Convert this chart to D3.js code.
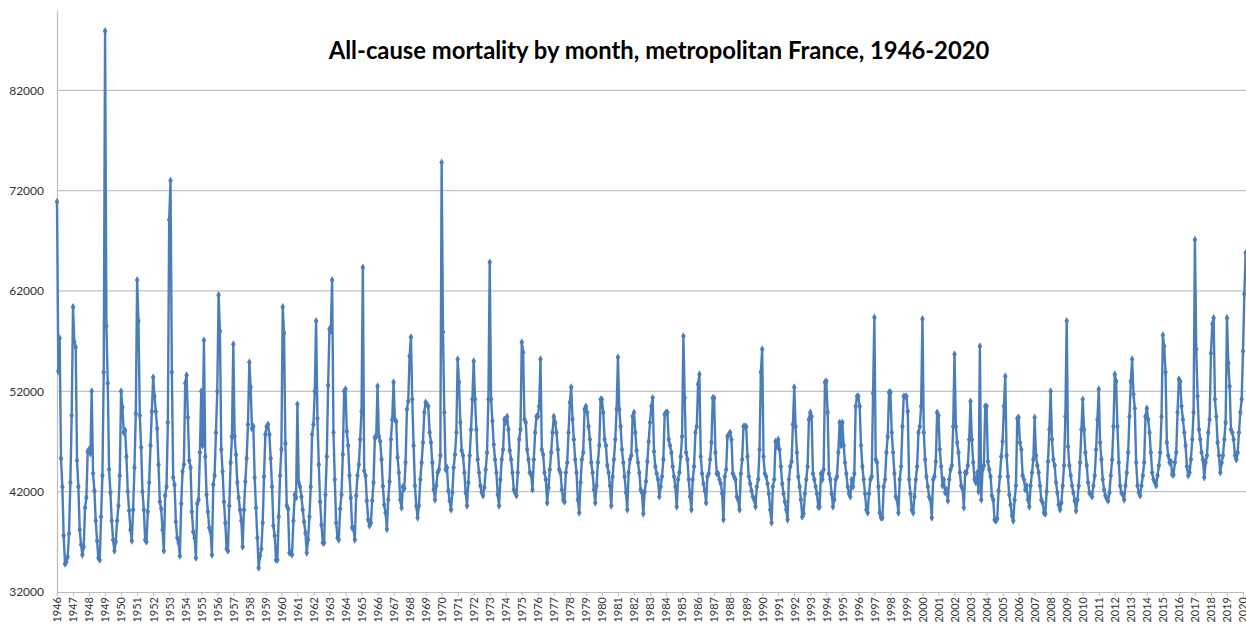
<!DOCTYPE html>
<html>
<head>
<meta charset="utf-8">
<script src="https://cdn.jsdelivr.net/npm/d3@7"></script>
<style>
body { margin: 0; background: #fff; }
svg { display: block; font-family: Lato, "Open Sans", sans-serif; }
</style>
</head>
<body>
<script>
// monthly deaths, one row per year (Jan..Dec)
var years = d3.range(1946, 2021);
var deaths = [
  [70900, 54000, 57300, 45300, 42500, 37600, 34800, 35000, 35500, 37800, 42900, 49600], // 1946
  [60400, 56900, 56400, 45100, 42500, 38200, 36700, 35700, 36500, 40400, 41400, 46000],
  [46200, 45800, 52000, 43800, 42100, 39100, 37100, 35400, 35200, 39500, 43600, 53900],
  [87900, 58500, 52800, 44200, 41900, 39100, 37200, 36100, 37000, 39100, 40600, 43600],
  [52000, 50400, 47900, 48100, 45500, 42000, 40100, 38200, 37100, 40200, 44400, 49800], // 1950
  [63100, 59000, 49600, 46400, 42000, 40200, 37200, 37000, 40000, 42900, 46600, 50000],
  [53400, 51500, 50000, 48300, 44700, 41000, 40300, 38200, 36100, 41600, 42500, 48900],
  [69100, 73000, 53900, 43400, 42700, 39000, 37400, 36900, 35600, 40800, 44000, 44700],
  [52800, 53600, 49400, 45100, 44400, 40000, 38000, 37400, 35400, 40800, 41200, 45900],
  [52000, 46600, 57100, 45500, 41700, 40000, 38400, 38000, 35700, 42700, 43600, 47900], // 1955
  [52000, 61600, 58000, 46200, 44000, 41000, 38900, 36300, 36100, 40600, 44900, 47500],
  [56700, 47500, 45700, 42900, 41400, 40200, 39100, 36500, 40200, 43000, 45300, 48700],
  [54900, 52400, 48300, 48500, 43400, 40400, 37400, 34400, 35600, 36300, 38900, 43500],
  [47700, 48500, 48700, 47700, 45300, 42500, 38600, 37600, 35200, 35200, 39500, 43600],
  [46200, 60400, 57800, 46800, 40600, 40300, 35900, 35900, 35700, 39100, 41700, 41400], // 1960
  [50700, 42900, 42500, 41500, 40200, 39000, 37900, 35900, 37200, 39500, 42500, 47700],
  [48700, 52000, 59000, 49300, 44700, 41000, 38700, 36900, 36900, 41700, 45500, 52600],
  [58200, 58000, 63100, 47900, 43200, 38900, 37400, 37200, 40300, 41700, 45700, 52000],
  [52200, 48000, 46600, 43600, 41400, 38400, 38300, 37200, 41600, 43600, 44700, 47200],
  [50000, 64350, 44100, 43600, 41100, 39200, 38600, 38900, 41100, 42900, 47400, 47500], // 1965
  [52500, 47550, 47000, 45200, 42550, 40700, 39900, 38250, 41200, 43000, 47200, 49200],
  [52900, 49200, 49000, 45400, 43900, 41200, 40400, 42500, 42300, 44900, 50200, 51000],
  [55500, 57400, 51200, 46600, 42600, 40600, 39400, 40600, 43200, 44900, 46900, 49900],
  [50900, 50700, 50500, 47900, 46900, 44900, 42200, 41200, 42600, 43900, 44200, 45600],
  [74800, 57900, 49900, 44200, 44400, 42100, 41100, 40200, 41900, 44400, 45700, 47900], // 1970
  [55200, 52900, 48900, 46100, 45600, 43900, 41900, 40600, 42900, 45600, 48200, 51200],
  [55000, 51200, 48200, 45200, 43900, 42600, 41900, 41600, 42400, 44200, 45900, 51200],
  [64850, 51200, 49050, 46700, 45200, 43900, 41700, 40600, 43200, 45200, 46200, 49200],
  [48900, 49500, 48200, 46100, 45200, 43900, 42200, 41900, 41600, 43900, 47200, 48200],
  [56900, 55900, 49200, 48900, 46200, 45200, 43900, 43700, 42200, 45200, 47900, 49500], // 1975
  [49500, 50500, 55200, 46200, 45700, 43900, 43200, 40900, 42400, 44200, 45900, 47900],
  [49500, 48900, 47900, 46200, 44200, 43900, 42200, 41200, 41000, 43900, 44900, 47900],
  [50900, 52400, 49200, 47200, 45200, 43900, 41200, 39900, 42900, 45200, 45900, 50200],
  [50500, 49900, 48500, 47200, 44900, 43900, 42200, 40900, 42600, 44900, 46600, 51200],
  [51200, 49900, 47200, 46600, 44600, 43900, 42600, 40600, 43500, 45200, 47200, 50200], // 1980
  [55400, 50200, 48500, 46200, 44900, 43500, 41900, 40200, 43900, 45200, 45600, 49500],
  [49900, 47900, 46100, 44900, 43900, 42200, 41900, 39800, 42000, 43000, 45000, 47000],
  [48900, 50500, 51350, 46000, 44500, 43800, 43200, 41500, 42500, 43500, 45200, 49700],
  [49900, 49900, 47200, 46600, 45900, 44500, 43500, 42500, 40500, 43200, 43900, 45500],
  [47500, 57500, 51350, 45900, 45200, 43200, 41500, 40200, 43200, 44500, 47900, 48500], // 1985
  [52700, 53700, 45500, 43800, 42800, 42100, 40900, 43500, 43800, 45200, 46900, 51350],
  [51350, 45900, 43800, 43800, 43200, 42800, 41800, 39200, 43500, 44200, 47500, 47700],
  [47900, 47200, 43800, 43500, 43200, 41500, 41200, 40200, 43800, 45200, 48500, 48500],
  [48500, 45500, 43500, 42800, 42100, 41500, 41200, 40500, 42500, 43200, 46200, 53900],
  [56200, 45500, 43800, 43500, 42800, 41800, 40200, 38900, 42500, 43200, 47000, 46500], // 1990
  [47200, 46200, 44500, 42800, 41800, 41000, 40200, 39200, 43200, 44500, 45000, 48700],
  [52400, 48500, 45900, 43500, 42500, 41200, 39500, 39800, 41800, 43200, 44500, 49200],
  [49900, 49500, 43800, 43200, 42500, 41800, 40500, 40500, 43800, 43200, 44200, 52900],
  [53000, 49900, 43800, 43200, 41800, 40500, 41200, 43200, 43500, 45900, 48900, 46600],
  [48900, 46600, 44900, 43800, 42500, 41800, 41500, 43200, 42500, 43800, 50500, 51500], // 1995
  [51500, 50500, 46600, 44500, 43200, 41800, 40200, 39900, 41800, 43200, 43500, 51800],
  [59350, 45200, 44900, 42500, 39900, 39400, 39400, 42500, 43200, 45900, 47500, 51900],
  [51900, 47900, 45900, 43800, 41500, 41200, 39900, 43200, 44500, 48500, 51500, 51500],
  [51500, 50000, 43200, 41800, 40200, 39900, 41500, 43200, 44500, 47900, 48500, 50500],
  [59200, 47900, 45200, 43500, 42500, 41500, 41200, 39400, 43200, 43500, 45000, 49900], // 2000
  [49600, 46200, 44500, 42600, 43200, 41900, 42200, 41100, 43200, 44200, 44600, 48500],
  [55700, 48500, 46900, 45900, 43900, 42600, 42300, 40400, 43900, 43900, 44600, 47200],
  [51000, 47200, 44900, 43200, 42900, 43900, 42000, 56500, 41200, 44200, 44600, 50500],
  [50500, 45000, 44200, 43500, 41600, 41200, 39200, 39100, 39300, 42100, 43500, 45500],
  [47000, 50500, 53500, 45600, 43500, 41700, 40700, 39600, 39100, 41200, 42600, 49300], // 2005
  [49400, 46900, 46200, 43600, 43200, 42200, 42600, 41200, 40500, 42600, 43900, 45200],
  [49400, 45600, 44600, 43900, 42600, 41200, 40900, 39900, 39800, 42000, 45000, 48200],
  [52000, 47200, 45200, 44600, 42900, 41900, 40700, 40200, 40900, 42600, 44600, 49500],
  [59000, 46500, 44600, 43600, 42600, 41900, 41100, 40100, 41200, 42600, 44900, 48200],
  [51200, 48200, 45900, 44600, 42900, 41900, 41700, 41500, 42600, 43600, 46200, 49200], // 2010
  [52200, 46900, 45200, 43200, 42200, 41600, 41300, 41100, 41900, 43600, 45200, 48500],
  [53700, 53000, 48500, 44900, 42600, 41900, 41700, 41200, 42600, 43900, 45900, 49500],
  [53000, 55200, 51700, 50300, 44900, 42600, 41900, 41600, 42600, 43600, 44900, 49500],
  [50300, 49200, 47900, 45900, 43900, 43200, 42900, 42600, 43600, 44600, 45900, 49500],
  [57600, 56500, 53900, 46900, 45600, 44900, 45000, 43700, 43700, 44900, 45900, 49900], // 2015
  [53200, 53000, 50500, 49200, 47900, 46600, 44500, 43600, 43900, 45200, 47200, 49900],
  [67100, 56200, 51500, 48200, 47200, 45900, 45200, 43400, 44900, 45600, 47900, 49200],
  [55800, 58700, 59300, 51200, 49500, 46900, 45600, 43900, 44900, 45600, 47200, 48900],
  [59300, 54800, 52500, 48200, 47900, 47200, 45600, 45200, 45900, 47900, 49900, 51200],
  [56000, 61700, 65800] // 2020
];
var yTicks = [32000, 42000, 52000, 62000, 72000, 82000];
var title = "All-cause mortality by month, metropolitan France, 1946-2020";

var width = 1246, height = 625;
var plotLeft = 57, plotTop = 10, plotBottom = 592, lastJan = 1243;

// flatten to one point per month
var series = [];
deaths.forEach(function(row, yi) {
  row.forEach(function(v, m) { series.push({i: yi * 12 + m, value: v}); });
});

var xScale = d3.scaleLinear().domain([0, (years.length - 1) * 12]).range([plotLeft, lastJan]);
var yScale = d3.scaleLinear().domain([32000, 90000]).range([plotBottom, plotTop]);

var svg = d3.select("body").append("svg")
    .attr("width", width)
    .attr("height", height);

// gridlines
svg.append("g")
  .selectAll("line")
  .data(yTicks.slice(1))
  .enter().append("line")
    .attr("x1", plotLeft).attr("x2", width)
    .attr("y1", function(d) { return yScale(d); })
    .attr("y2", function(d) { return yScale(d); })
    .attr("stroke", "#c4c4c4")
    .attr("stroke-width", 1.2);

// y-axis
var yAxis = svg.append("g")
    .attr("transform", "translate(" + plotLeft + ",0)")
    .call(d3.axisLeft(yScale).tickValues(yTicks).tickSize(0).tickPadding(13).tickFormat(d3.format("d")));
yAxis.select(".domain").attr("stroke", "#bdbdbd").attr("stroke-width", 1.2);
yAxis.selectAll("text").attr("font-size", 12).attr("fill", "#333").attr("font-family", "Lato");

// x-axis
var xAxis = svg.append("g")
    .attr("transform", "translate(0," + plotBottom + ")")
    .call(d3.axisBottom(xScale)
      .tickValues(years.map(function(y, k) { return k * 12; }))
      .tickFormat(function(d) { return years[d / 12]; })
      .tickSize(4));
xAxis.select(".domain").attr("stroke", "#bdbdbd").attr("stroke-width", 1.2);
xAxis.selectAll(".tick line").attr("stroke", "#bdbdbd");
xAxis.selectAll("text")
    .attr("transform", "rotate(-90)")
    .attr("text-anchor", "end")
    .attr("x", -5)
    .attr("y", 0)
    .attr("dy", "0.35em")
    .attr("font-size", 11)
    .attr("fill", "#333")
    .attr("font-family", "Lato");

// the series
var line = d3.line()
    .x(function(d) { return xScale(d.i); })
    .y(function(d) { return yScale(d.value); });

svg.append("path")
    .datum(series)
    .attr("d", line)
    .attr("fill", "none")
    .attr("stroke", "#4a7ebb")
    .attr("stroke-width", 2.4)
    .attr("stroke-linejoin", "round");

svg.append("g")
  .selectAll("path")
  .data(series)
  .enter().append("path")
    .attr("d", d3.symbol(d3.symbolDiamond, 18))
    .attr("transform", function(d) { return "translate(" + xScale(d.i) + "," + yScale(d.value) + ")"; })
    .attr("fill", "#4a7ebb");

// title
svg.append("text")
    .attr("x", 659)
    .attr("y", 59)
    .attr("text-anchor", "middle")
    .attr("font-size", 23.8)
    .attr("font-weight", "bold")
    .attr("fill", "#000")
    .text(title);
</script>
</body>
</html>
